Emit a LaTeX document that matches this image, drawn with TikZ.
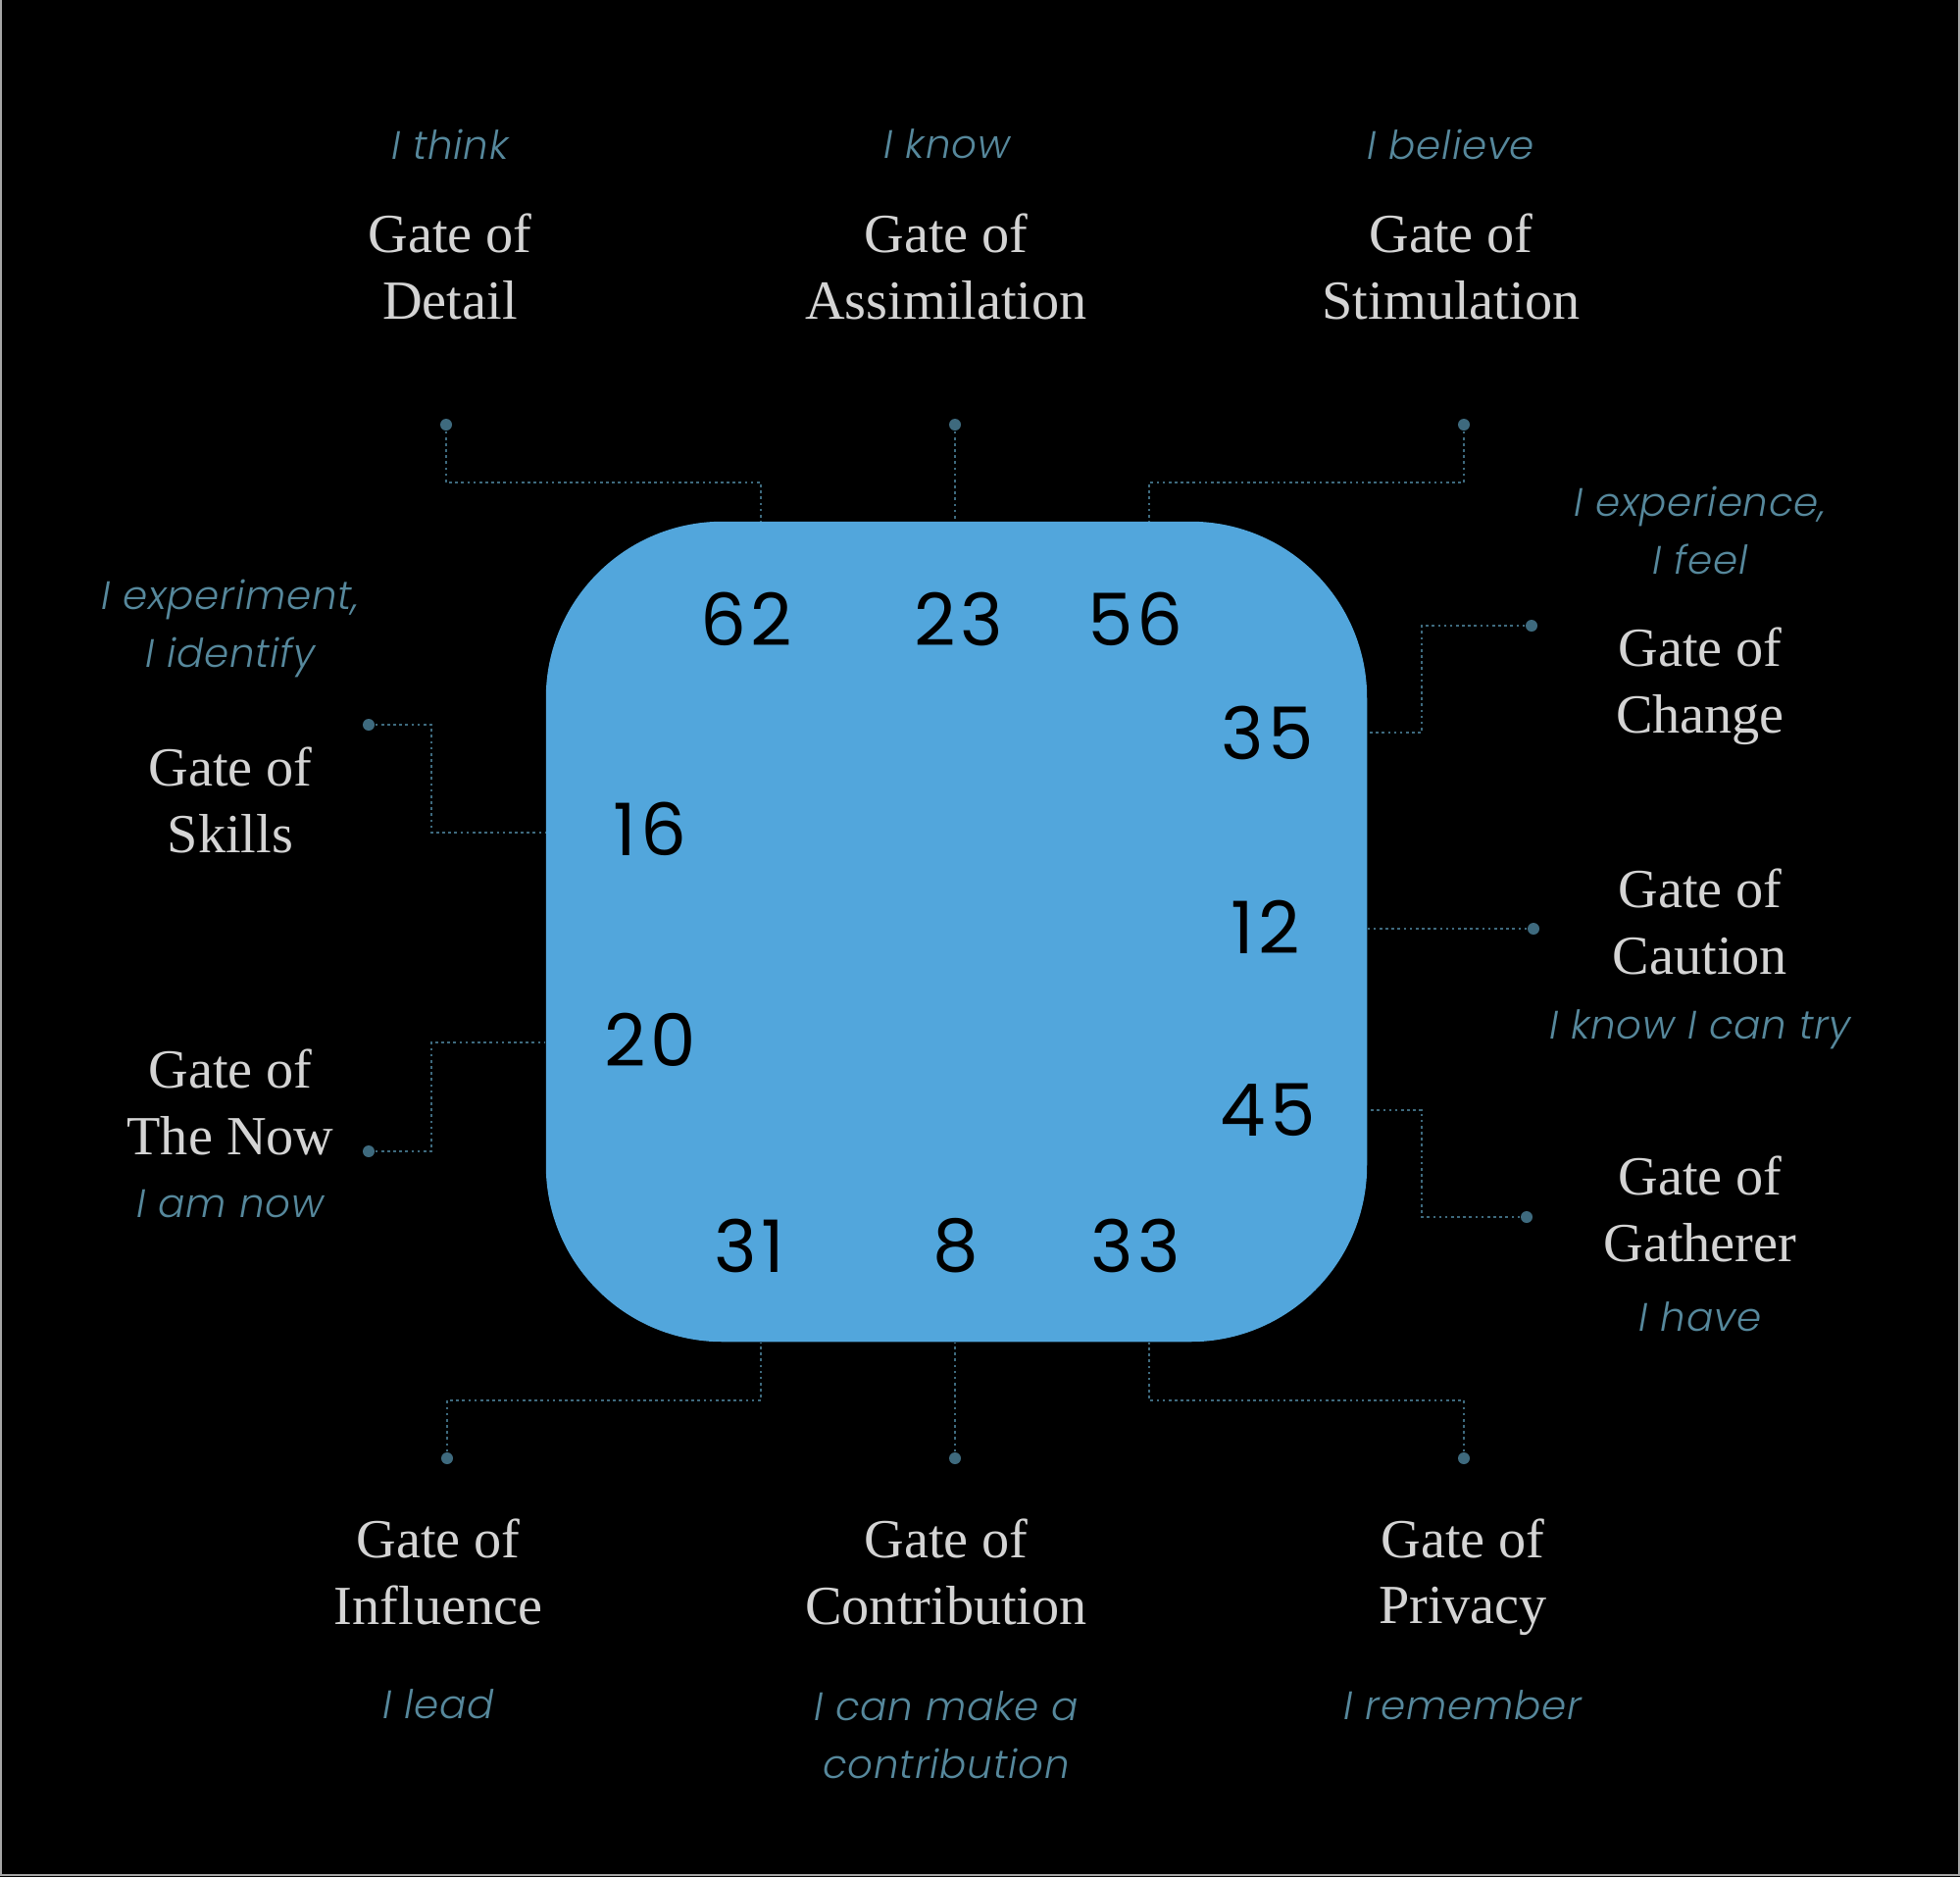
\documentclass[tikz,border=0pt]{standalone}
\usepackage{fontspec}
\setmainfont{Liberation Serif}
\newfontfamily\sayfont{Poppins Light Italic}[LetterSpace=2]
\newfontfamily\numfont{Poppins}[LetterSpace=6]
\definecolor{coreblue}{HTML}{52A6DC}
\definecolor{gategray}{HTML}{D4D4D4}
\definecolor{saycolor}{HTML}{56889C}
\definecolor{linkcolor}{HTML}{3E6A7E}

\begin{document}
\begin{tikzpicture}[x=0.01cm, y=-0.01cm,
    gate/.style={text=gategray, align=center, font=\fontsize{16}{19.2}\selectfont},
    say/.style={text=saycolor, align=center, font=\sayfont\fontsize{11.5}{16.8}\selectfont},
    num/.style={text=black, font=\numfont\fontsize{21}{25}\selectfont},
    gatedot/.style={circle, fill=linkcolor, inner sep=0pt, minimum size=0.12cm},
    link/.style={linkcolor, line width=0.75pt, dash pattern=on 0.75pt off 1pt}]
  \fill[black] (0,0) rectangle (1999,1914);
  \useasboundingbox (0,0) rectangle (1999,1914);
  \draw[gray!70, line width=0.6pt] (1,0) -- (1,1912) -- (1998,1912) -- (1998,0);

  % the centre
  \node[fill=coreblue, rounded corners=1.8cm, minimum width=8.37cm,
        minimum height=8.36cm, inner sep=0pt] (core) at (975.5,950) {};

  \node[num] (n62) at (761,631) {62};
  \node[num] (n23) at (978,631) {23};
  \node[num] (n56) at (1158,631) {56};
  \node[num] (n35) at (1293,747) {35};
  \node[num] (n12) at (1291,945) {12};
  \node[num] (n45) at (1293,1132) {45};
  \node[num] (n16) at (663,845) {16};
  \node[num] (n20) at (663,1060) {20};
  \node[num] (n31) at (764,1270) {31};
  \node[num] (n8)  at (975,1270) {8};
  \node[num] (n33) at (1158,1270) {33};

  % gates
  \node[gate] (gDetail) at (459,272) {Gate of\\Detail};
  \node[gate] (gAssim) at (965,272) {Gate of\\Assimilation};
  \node[gate] (gStim) at (1480,272) {Gate of\\Stimulation};
  \node[gate] (gChange) at (1734,700) {Gate of\\Change};
  \node[gate] (gCaution) at (1734,940) {Gate of\\Caution};
  \node[gate] (gGather) at (1734,1233) {Gate of\\Gatherer};
  \node[gate] (gSkills) at (235,816) {Gate of\\Skills};
  \node[gate] (gNow) at (235,1124) {Gate of\\The Now};
  \node[gate] (gInfl) at (447,1603) {Gate of\\Influence};
  \node[gate] (gContr) at (965,1603) {Gate of\\Contribution};
  \node[gate] (gPriv) at (1492,1608) {Gate of\\Privacy};

  \node[say] (sThink) at (459,147) {I think};
  \node[say] (sKnow) at (966,147) {I know};
  \node[say] (sBelieve) at (1480,147) {I believe};
  \node[say] (sChange) at (1734,541) {I experience,\\I feel};
  \node[say] (sCaution) at (1734,1050) {I know I can try};
  \node[say] (sGather) at (1734,1343) {I have};
  \node[say] (sSkills) at (235,641) {I experiment,\\I identify};
  \node[say] (sNow) at (235,1228) {I am now};
  \node[say] (sInfl) at (447,1738) {I lead};
  \node[say] (sContr) at (965,1769) {I can make a\\contribution};
  \node[say] (sPriv) at (1492,1739) {I remember};

  % connectors
  \node[gatedot] (d62) at (455,433) {};
  \node[gatedot] (d23) at (974,433) {};
  \node[gatedot] (d56) at (1493,433) {};
  \node[gatedot] (d35) at (1562,638) {};
  \node[gatedot] (d12) at (1564,947) {};
  \node[gatedot] (d45) at (1557,1241) {};
  \node[gatedot] (d16) at (376,739) {};
  \node[gatedot] (d20) at (376,1174) {};
  \node[gatedot] (d31) at (456,1487) {};
  \node[gatedot] (d8)  at (974,1487) {};
  \node[gatedot] (d33) at (1493,1487) {};

  \coordinate (k62) at (776,492);
  \coordinate (k56) at (1172,492);
  \coordinate (k35) at (1450,747);
  \coordinate (k45) at (1450,1132);
  \coordinate (k16) at (440,849);
  \coordinate (k20) at (440,1063);
  \coordinate (k31) at (776,1428);
  \coordinate (k33) at (1172,1428);

  \draw[link] (d62) |- (k62) -- (k62 |- core.north);
  \draw[link] (d23) -- (d23 |- core.north);
  \draw[link] (d56) |- (k56) -- (k56 |- core.north);
  \draw[link] (d35) -| (k35) -- (k35 -| core.east);
  \draw[link] (d12) -- (d12 -| core.east);
  \draw[link] (d45) -| (k45) -- (k45 -| core.east);
  \draw[link] (d16) -| (k16) -- (k16 -| core.west);
  \draw[link] (d20) -| (k20) -- (k20 -| core.west);
  \draw[link] (d31) |- (k31) -- (k31 |- core.south);
  \draw[link] (d8) -- (d8 |- core.south);
  \draw[link] (d33) |- (k33) -- (k33 |- core.south);
\end{tikzpicture}
\end{document}
